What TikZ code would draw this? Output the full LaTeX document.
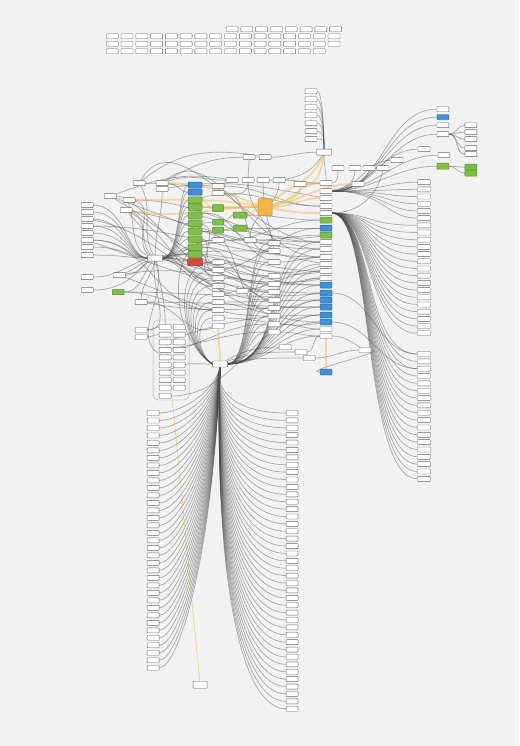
\documentclass[tikz,border=0pt]{standalone}
\usetikzlibrary{calc}
\definecolor{grn}{HTML}{7DBF48}
\definecolor{blu}{HTML}{3E8ED8}
\definecolor{redx}{HTML}{D8473E}
\definecolor{orng}{HTML}{F2B548}
\definecolor{bgc}{HTML}{F2F2F2}
\pgfdeclarelayer{back}
\pgfdeclarelayer{edges}
\pgfsetlayers{back,edges,main}
\begin{document}
\begin{tikzpicture}[x=1pt,y=-1pt,
 bx/.style={draw=black!60, fill=white, rounded corners=0.6pt, line width=0.4pt, minimum width=12pt, minimum height=5pt, inner sep=0pt, outer sep=0pt},
 gb/.style={bx, fill=grn, draw=grn!70!black},
 bb/.style={bx, fill=blu, draw=blu!70!black},
 rb/.style={bx, fill=redx, draw=redx!70!black, minimum width=15pt, minimum height=7pt},
 ob/.style={bx, fill=orng, draw=orng!80!black, minimum width=14pt, minimum height=17pt},
 hub/.style={bx, minimum width=15pt, minimum height=6pt},
 ed/.style={draw=black!70, line width=0.75pt, opacity=0.42},
 yd/.style={draw=orng, line width=1.8pt, opacity=0.45}]
\begin{pgfonlayer}{back}
\fill[bgc] (0,0) rectangle (519,746);
\foreach \x in {50,170,290,410} \draw[black!5,line width=0.6pt] (\x,0) -- (\x,746);
\foreach \y in {80,200,320,440,560,680} \draw[black!5,line width=0.6pt] (0,\y) -- (519,\y);
\end{pgfonlayer}
\useasboundingbox (0,0) rectangle (519,746);

% ---------- top grid of boxes
\foreach \i in {0,...,7} \node[bx] (GA\i) at (232+14.8*\i,29) {};
\foreach \i in {0,...,15} \node[bx] (GB\i) at (112+14.8*\i,36) {};
\foreach \i in {0,...,15} \node[bx] (GC\i) at (112+14.8*\i,43.5) {};
\foreach \i in {0,...,14} \node[bx] (GD\i) at (112+14.8*\i,51) {};

% ---------- hubs
\node[hub] (root) at (220,364) {};
\node[hub] (LH) at (155,258) {};
\node[hub] (TH) at (324,152) {};
\node[ob] (O) at (265,207) {};
\node[bx, minimum width=14pt, minimum height=7pt] (Z) at (200,685) {};

% ---------- column C (x=326)
\foreach \n/\y in {C0/183,C1/191,C2/198,C3/206,C4/213,C8/242,C9/249,C10/257,C11/264,C12/271,C22/278,C19/329,C20/336}
  \node[bx] (\n) at (326,\y) {};
\foreach \n/\y in {C5/220,C7/235} \node[gb, minimum height=6pt] (\n) at (326,\y) {};
\foreach \n/\y in {C6/228,C13/285,C14/293,C15/300,C16/307,C17/315,C18/322,C21/372} \node[bb, minimum height=6pt] (\n) at (326,\y) {};

% ---------- columns M (x=218) and N (x=274)
\foreach \n/\y in {M0/240,M1/262,M2/270,M3/278,M4/286,M5/294,M6/302,M7/310,M8/318,M9/326}
  \node[bx] (\n) at (218,\y) {};
\foreach \n/\y in {N0/243,N1/251,N2/262,N3/276,N4/284,N5/292,N6/300,N7/308,N8/316,N9/324,N10/332}
  \node[bx] (\n) at (274,\y) {};

% ---------- green column G (x=195)
\foreach \n/\y in {G0/185,G1/192} \node[bb, minimum width=14pt, minimum height=6pt] (\n) at (195,\y) {};
\foreach \n/\y in {G2/200,G3/207,G4/215,G5/223,G6/231,G7/239,G8/247,G9/254} \node[gb, minimum width=14pt, minimum height=6.5pt] (\n) at (195,\y) {};
\node[rb] (G10) at (195,262) {};
\node[gb, minimum width=11pt, minimum height=7pt] (H0) at (218,208) {};
\node[gb, minimum width=11pt, minimum height=6pt] (H1) at (218,222) {};
\node[gb, minimum width=11pt, minimum height=6pt] (H2) at (218,230) {};
\node[gb, minimum width=14pt, minimum height=6pt] (H3) at (240,215) {};
\node[gb, minimum width=14pt, minimum height=6pt] (H4) at (240,228) {};

% ---------- misc boxes
\foreach \n/\x/\y in {a1/139/183,a2/162/183,a3/162/189,a4/110/196,a5/129/200,a6/126/210,
  b1/249/157,b2/265/157,c1/232/180,c2/248/180,c3/263/180,c4/279/180,c5/300/184,c6/218/186,c7/218/193,
  d1/338/168,d2/355/168,d3/369/168,d4/383/168,d5/397/160,d6/358/184,
  e1/119/275,e3/141/302,e6/141/330,e7/141/337,f1/250/240,f2/242/291,
  g1/285/347,g2/301/352,g3/309/358,g4/365/350}
  \node[bx] (\n) at (\x,\y) {};
\node[gb] (e2) at (118,292) {};

% ---------- left column L (x=87)
\foreach \n/\y in {L0/205,L1/212,L2/219,L3/226,L4/233,L5/240,L6/247,L7/255,L8/277,L9/290}
  \node[bx] (\n) at (87,\y) {};

% ---------- container with table of boxes
\node[draw=black!35, line width=0.4pt, rounded corners=5pt, minimum width=36pt, minimum height=80pt, inner sep=0pt] (K) at (171,360) {};
\foreach \i in {0,...,8} {
  \node[bx] (K\i) at (165,327+7.6*\i) {};
  \node[bx] (KR\i) at (179,327+7.6*\i) {};
}
\node[bx] (K9) at (165,396) {};

% ---------- top centre column
\foreach \i in {0,...,6} {
  \pgfmathsetmacro\yy{91+8*\i}
  \node[bx] (T\i) at (311,\yy) {};
  \begin{pgfonlayer}{edges}
  \draw[ed] (T\i.east) .. controls (323,\yy) and (324,138) .. (TH.north);
  \end{pgfonlayer}
}

% ---------- upper right cluster
\foreach \n/\x/\y in {UR0/443/109,UR2/443/125,UR3/443/134,UR4/424/149,UR5/444/155}
  \node[bx] (\n) at (\x,\y) {};
\node[bb] (UR1) at (443,117) {};
\node[gb, minimum height=6pt] (UR6) at (443,166) {};
\foreach \n/\y in {S0/125,S1/132,S2/139,S3/148,S4/154} \node[bx] (\n) at (471,\y) {};
\node[gb, minimum height=6pt] (S5) at (471,167) {};
\node[gb, minimum height=6pt] (S6) at (471,173) {};

% ---------- right column (x=424)
\foreach \i in {0,...,21} {
  \pgfmathsetmacro\yy{182+7.2*\i}
  \node[bx, minimum width=13pt] (RC\i) at (424,\yy) {};
  \begin{pgfonlayer}{edges}
  \ifnum\i<6
    \draw[ed] (C1.east) .. controls (385,191) and (385,\yy) .. (RC\i.west);
  \else
    \draw[ed] (C4.east) .. controls (372,213) and (366,\yy) .. (RC\i.west);
  \fi
  \end{pgfonlayer}
}
\foreach \i in {0,...,17} {
  \pgfmathsetmacro\yy{354+7.35*\i}
  \node[bx, minimum width=13pt] (RD\i) at (424,\yy) {};
  \begin{pgfonlayer}{edges}
  \draw[ed] (C4.east) .. controls (374,213) and (362,\yy) .. (RD\i.west);
  \end{pgfonlayer}
}

% ---------- bottom fans
\foreach \i in {0,...,34} {
  \pgfmathsetmacro\yy{413+7.5*\i}
  \pgfmathsetmacro\yc{\yy-0.35*(\yy-364)}
  \node[bx] (BL\i) at (153,\yy) {};
  \begin{pgfonlayer}{edges}
  \draw[ed] (root.south) .. controls (212,\yc) and (178,\yy) .. (BL\i.east);
  \end{pgfonlayer}
}
\foreach \i in {0,...,40} {
  \pgfmathsetmacro\yy{413+7.4*\i}
  \pgfmathsetmacro\yc{\yy-0.45*(\yy-364)}
  \node[bx] (BR\i) at (292,\yy) {};
  \begin{pgfonlayer}{edges}
  \draw[ed] (root.south) .. controls (214,\yc) and (236,\yy) .. (BR\i.west);
  \end{pgfonlayer}
}

\begin{pgfonlayer}{edges}
% top centre / upper right
\foreach \t in {UR0,UR1,UR2,UR3,UR4,UR5,UR6,d5}
  \draw[ed] (C1.east) to[out=0,in=180] (\t.west);
\foreach \t in {S0,S1,S2,S3,S4} \draw[ed] (UR3.east) to[out=0,in=180] (\t.west);
\foreach \t in {S5,S6} \draw[ed] (UR6.east) to[out=0,in=180] (\t.west);
% left column into left hub
\foreach \t in {L0,L1,L2,L3,L4,L5,L6,L7}
  \draw[ed] (\t.east) .. controls ($(\t.east)+(32,0)$) and (128,258) .. (LH.west);
\draw[ed] (L8.east) to[out=0,in=200] (LH.west);
\draw[ed] (L9.east) to[out=0,in=230] (LH.south west);
% left hub into green column
\foreach \t in {G0,G1,G2,G3,G4,G5,G6,G7,G8,G9,G10}
  \draw[ed] (LH.east) .. controls (180,258) and ($(\t.west)+(-10,0)$) .. (\t.west);
% root up-fans
\foreach \t in {N0,N1,N2,N3,N4,N5,N6,N7,N8,N9,N10}
  \draw[ed] (root.east) .. controls (252,364) and ($(\t.west)+(-23,0)$) .. (\t.west);
\foreach \t in {C8,C9,C10,C11,C12,C22,C13,C14,C15,C16,C17,C18,C19,C20}
  \draw[ed] (root.east) to[out=0,in=180] (\t.west);
\foreach \t in {M0,M1,M2,M3,M4,M5,M6,M7,M8}
  \draw[ed] (root.west) to[out=150,in=180] (\t.west);
% miscellaneous connectors
\foreach \s/\t/\o/\n in {
 a4/LH/0/160, a5/LH/-10/150, a6/LH/-20/140, a1/LH/-60/120, a3/LH/-90/90,
 LH/e1/200/20, LH/e2/230/0, LH/e3/-100/90, LH/K0/-80/90, LH/e6/-100/0,
 LH/M0/0/180, LH/M2/-5/180, LH/M4/-10/180, LH/N1/10/180, LH/N4/0/180, LH/N7/-10/180,
 LH/f1/15/180, LH/f2/-10/180,
 a1/G0/0/180, a2/G1/0/180, a2/c1/20/180, c6/G0/180/0,
 C8/a5/180/0, C9/a6/180/-10, C10/L3/180/0, C11/a4/170/-20, C12/LH/180/10, C22/e1/190/10,
 C13/LH/180/0, C14/e2/185/0, C15/M6/180/0, C16/e3/180/0, C17/K9/180/0, C18/M8/190/0,
 C19/N9/180/0, C20/N10/180/0, C9/N0/180/0, C10/N2/180/0, C8/f1/180/0, C11/G9/200/-10,
 C12/G10/190/0, C6/H4/180/0, C7/H2/190/0, C5/H3/180/0, C3/c7/180/0, C2/a3/170/10,
 N0/c2/110/-90, N1/c3/100/-90, N3/M1/180/0, N5/M3/180/0, N6/G8/170/0, N8/G6/160/0, N2/G4/160/10,
 M1/G7/180/0, M3/G5/170/-10, M5/a6/150/-30, M7/L5/180/0, M9/e3/200/0,
 f1/c4/90/-90, f2/N6/0/180, f2/M5/180/0,
 c1/c6/180/0, c3/TH/0/-120, c4/C0/0/180, c5/C0/0/180, b1/c2/-90/90, b2/TH/0/180,
 d1/C0/-90/0, d2/C1/-90/0, d3/C1/-100/10, d4/C4/-100/0, C1/d6/0/180,
 TH/C0/-90/90, G3/H0/0/180, G5/H1/0/180, H1/H3/0/180, H2/H4/0/180,
 e1/LH/0/210, K4/LH/150/-70, e6/K0/0/180, e7/K1/0/180,
 root/g1/30/180, root/g2/20/180, root/g3/10/180, g3/g4/0/180, C21/g4/180/0, g2/C20/0/180,
 C20/g4/0/150, C18/RD2/0/180, C14/RD0/0/180,
 a1/C8/60/180, a2/C10/40/180, a4/N3/-30/180, a5/N5/-40/180, a6/C13/-50/180,
 e1/N8/-20/180, e3/C16/-10/180, K2/C17/20/180, K3/N10/10/180, M0/C5/0/180,
 M2/C6/10/180, G2/c2/20/-90, G4/N0/-10/180, G6/f1/0/180, G8/N2/0/180, G9/M2/-10/180,
 G10/N4/-10/180, c7/N1/0/180, c6/C3/0/180, f1/C7/0/180, f2/C12/10/180, N4/C22/0/180,
 N7/C15/0/180, M6/C18/-10/180, b1/a2/180/30, b2/a1/170/40, c1/a4/170/20,
 L2/N6/-10/180, L5/C14/-20/180, e2/M7/0/180, K6/root/30/180, KR3/N9/20/180}
 \draw[ed] (\s) to[out=\o,in=\n] (\t);
% yellow highlighted connectors
\foreach \s/\t/\o/\n in {
 O/H0/180/0, O/H3/190/0, O/G3/180/0, O/a5/170/0, O/a2/160/0, O/a6/180/-10,
 O/C0/10/180, O/C2/0/180, O/C4/-10/180, O/TH/40/-110, O/c5/20/-90, O/d6/10/180,
 TH/c5/-100/0, H0/G2/180/0, C20/C21/-90/90, root/M9/90/-90}
 \draw[yd] (\s) to[out=\o,in=\n] (\t);
\draw[yd, line width=0.9pt] (K0) -- (Z);
\end{pgfonlayer}
\end{tikzpicture}
\end{document}
